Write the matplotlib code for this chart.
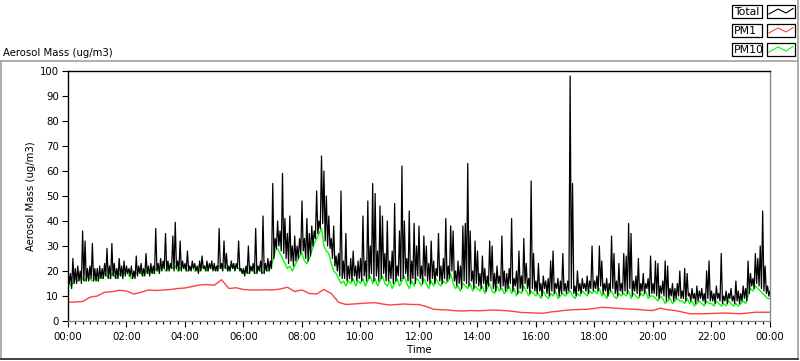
import numpy as np
import matplotlib
matplotlib.use("Agg")
import matplotlib.pyplot as plt
from matplotlib.lines import Line2D
from matplotlib.patches import Rectangle

# ---------------- data ----------------
# Total aerosol mass: upper reading in each 5-minute slot (12 per hour)
total_00_06 = [20, 19, 25, 21, 22, 20, 36, 32, 21, 22, 31, 21,
               21, 22, 21, 23, 29, 22, 31, 23, 21, 25, 22, 24,
               22, 21, 22, 20, 26, 22, 23, 21, 27, 22, 23, 22,
               37, 23, 25, 24, 35, 24, 23, 34, 39.5, 24, 32, 24,
               23, 28, 22, 24, 23, 22, 24, 26, 22, 24, 23, 24,
               23, 22, 37, 23, 32, 27, 22, 24, 23, 23, 32, 21]
total_06_12 = [21, 22, 30, 22, 23, 37, 22, 24, 42, 23, 25, 24,
               55, 33, 40, 36, 59, 41, 35, 42, 30, 34, 30, 33,
               48, 33, 41, 35, 38, 36, 52, 40, 66, 60, 50, 42,
               33, 38, 26, 27, 52, 24, 35, 22, 25, 28, 22, 24,
               25, 42, 24, 48, 30, 55, 51, 28, 46, 42, 27, 40,
               24, 28, 47, 22, 36, 62, 40, 25, 44, 24, 39, 30]
total_12_18 = [38, 22, 34, 30, 23, 32, 24, 21, 35, 22, 25, 41,
               22, 38, 36, 20, 24, 22, 38, 39, 63, 36, 20, 32,
               28, 19, 26, 21, 18, 32, 30, 19, 22, 18, 34, 20,
               19, 21, 41, 17, 20, 28, 18, 33, 23, 17, 56, 27,
               16, 23, 15, 18, 16, 17, 24, 28, 15, 17, 16, 27,
               15, 16, 98, 55, 14, 20, 15, 17, 15, 18, 16, 30]
total_18_24 = [16, 18, 30, 24, 15, 17, 15, 34, 27, 16, 23, 15,
               27, 26, 39, 35, 16, 18, 25, 15, 19, 15, 17, 26,
               15, 24, 23, 14, 16, 24, 22, 13, 15, 13, 15, 20,
               12, 21, 19, 11, 13, 11, 14, 12, 13, 11, 20, 24,
               12, 11, 14, 11, 27, 10, 12, 11, 13, 10, 16, 12,
               11, 14, 13, 24, 19, 17, 27, 25, 30, 44, 22, 14,
               12]

# Total aerosol mass: lower reading (band bottom) in each 5-minute slot
total_low_00_06 = [15, 13, 15, 15, 16, 15, 16, 16, 16, 17, 16, 16,
                   16, 17, 17, 18, 17, 17, 18, 17, 17, 18, 17, 18,
                   19, 18, 17, 17, 18, 19, 18, 18, 19, 18, 19, 19,
                   20, 19, 20, 21, 20, 20, 21, 20, 21, 20, 20, 21,
                   20, 20, 20, 21, 20, 19, 20, 21, 20, 20, 21, 20,
                   20, 20, 21, 20, 21, 20, 20, 21, 20, 21, 20, 19]
total_low_06_12 = [18, 19, 19, 20, 19, 19, 20, 19, 19, 20, 20, 21,
                   25, 29, 30, 28, 27, 25, 23, 24, 22, 24, 25, 27,
                   28, 25, 24, 26, 30, 33, 35, 37, 39, 32, 30, 29,
                   25, 22, 20, 18, 17, 17, 16, 17, 16, 18, 16, 17,
                   16, 18, 16, 17, 19, 16, 18, 16, 17, 19, 16, 16,
                   17, 15, 16, 18, 16, 17, 19, 16, 15, 17, 15, 18]
total_low_12_18 = [17, 15, 18, 16, 15, 17, 15, 18, 16, 15, 17, 16,
                   17, 20, 16, 14, 15, 13, 16, 15, 14, 16, 13, 15,
                   14, 13, 15, 12, 14, 16, 13, 12, 15, 13, 14, 12,
                   13, 15, 12, 14, 11, 13, 12, 15, 13, 11, 13, 12,
                   11, 12, 10, 13, 11, 10, 12, 11, 13, 10, 11, 12,
                   11, 12, 13, 11, 10, 12, 11, 13, 12, 11, 13, 12]
total_low_18_24 = [13, 12, 14, 11, 12, 10, 12, 13, 11, 10, 12, 11,
                   12, 11, 13, 10, 12, 11, 10, 12, 11, 13, 10, 11,
                   11, 10, 9, 11, 10, 8, 9, 10, 8, 9, 10, 9,
                   9, 8, 10, 8, 9, 7, 8, 9, 8, 7, 9, 8,
                   8, 7, 9, 8, 7, 8, 7, 9, 8, 7, 8, 7,
                   8, 9, 8, 11, 14, 13, 15, 14, 13, 12, 11, 10,
                   10]

# PM10, 5-minute samples
pm10_00_06 = [16, 14, 15, 17, 16, 18, 17, 16, 18, 17, 16, 17,
              16, 18, 17, 19, 18, 17, 19, 18, 17, 19, 18, 19,
              20, 18, 17, 18, 19, 20, 19, 18, 20, 19, 20, 19,
              21, 20, 21, 22, 20, 21, 22, 21, 22, 20, 21, 22,
              21, 20, 21, 22, 20, 21, 20, 22, 21, 20, 22, 21,
              21, 20, 22, 21, 22, 21, 20, 22, 21, 22, 21, 20]
pm10_06_12 = [19, 20, 19, 21, 20, 19, 21, 20, 19, 21, 20, 21,
              24, 28, 29, 27, 25, 23, 21, 22, 20, 22, 24, 26,
              27, 24, 23, 25, 28, 31, 33, 35, 37, 30, 28, 27,
              23, 20, 19, 17, 15, 16, 14, 16, 15, 17, 14, 16,
              15, 17, 14, 16, 18, 15, 17, 14, 16, 18, 15, 14,
              16, 13, 15, 17, 14, 16, 18, 15, 13, 16, 14, 17]
pm10_12_18 = [16, 14, 17, 15, 13, 16, 14, 17, 15, 14, 16, 15,
              16, 19, 15, 13, 14, 12, 15, 14, 13, 15, 12, 14,
              13, 12, 14, 11, 13, 15, 12, 11, 14, 12, 13, 11,
              12, 14, 11, 13, 10, 12, 11, 14, 12, 10, 12, 11,
              10, 11, 9, 12, 10, 9, 11, 10, 12, 9, 10, 11,
              10, 11, 12, 10, 9, 11, 10, 12, 11, 10, 12, 11]
pm10_18_24 = [12, 11, 13, 10, 11, 9, 11, 12, 10, 9, 11, 10,
              11, 10, 12, 9, 11, 10, 9, 11, 10, 12, 9, 10,
              10, 9, 8, 10, 9, 7, 8, 9, 7, 8, 9, 8,
              8, 7, 9, 7, 8, 6, 7, 8, 7, 6, 8, 7,
              7, 6, 8, 7, 6, 7, 6, 8, 7, 6, 7, 6,
              7, 8, 7, 10, 13, 12, 14, 13, 12, 11, 10, 9,
              9]

# PM1, 15-minute samples
pm1_00_12 = [7.5, 7.6, 7.8, 9.5, 10.0, 11.5, 11.7, 12.3, 12.0, 10.8, 11.5, 12.4,
             12.2, 12.4, 12.6, 13.0, 13.2, 13.8, 14.4, 14.6, 14.3, 16.5, 13.0, 13.3,
             12.6, 12.4, 12.4, 12.5, 12.4, 12.8, 13.5, 11.8, 12.4, 11.0, 10.8, 12.6,
             11.0, 7.5, 6.6, 6.8, 7.0, 7.2, 7.3, 6.8, 6.4, 6.6, 6.8, 6.6]
pm1_12_24 = [6.6, 5.8, 4.7, 4.5, 4.4, 4.1, 4.0, 4.2, 4.1, 4.2, 4.4, 4.3,
             4.1, 3.8, 3.4, 3.3, 3.2, 3.1, 3.6, 3.9, 4.3, 4.5, 4.6, 4.7,
             5.0, 5.5, 5.3, 5.1, 4.9, 4.7, 4.6, 4.3, 4.2, 5.1, 4.5, 4.2,
             3.6, 2.9, 2.9, 2.9, 3.0, 3.1, 3.2, 3.0, 2.9, 3.2, 3.5, 3.5,
             3.5]

x_tick_hours = [0, 2, 4, 6, 8, 10, 12, 14, 16, 18, 20, 22, 24]
x_tick_labels = ["00:00", "02:00", "04:00", "06:00", "08:00", "10:00", "12:00",
                 "14:00", "16:00", "18:00", "20:00", "22:00", "00:00"]
y_ticks = [0, 10, 20, 30, 40, 50, 60, 70, 80, 90, 100]
legend_names = ["Total", "PM1", "PM10"]

# ---------------- assemble ----------------
total_hi = np.array(total_00_06 + total_06_12 + total_12_18 + total_18_24, float)
total_lo = np.array(total_low_00_06 + total_low_06_12 + total_low_12_18 + total_low_18_24, float)
pm10 = np.array(pm10_00_06 + pm10_06_12 + pm10_12_18 + pm10_18_24, float)
pm1 = np.array(pm1_00_12 + pm1_12_24, float)
t5 = np.arange(len(total_hi)) * 5 / 60.0
t15 = np.arange(len(pm1)) * 15 / 60.0

# interleave upper reading at the slot start and lower reading mid-slot
t_tot = np.empty(2 * len(t5) - 1)
v_tot = np.empty(2 * len(t5) - 1)
t_tot[0::2] = t5
v_tot[0::2] = total_hi
t_tot[1::2] = t5[:-1] + 2.5 / 60.0
v_tot[1::2] = total_lo[:-1]

W, H = 800, 361
fig = plt.figure(figsize=(W / 100, H / 100), dpi=100)
FONT = "DejaVu Sans"
FS = 7.3

def fx(x):
    return x / W

def fy(y):
    return 1 - y / H

ax = fig.add_axes([fx(68), fy(321), (770 - 68) / W, (321 - 71) / H])
ax.set_xlim(0, 24)
ax.set_ylim(0, 100)

GREEN = "#00ff00"
RED = "#ff4040"
ax.plot(t5, pm10, color=GREEN, lw=1.0, zorder=2)
ax.plot(t15, pm1, color=RED, lw=1.0, zorder=2)
ax.plot(t_tot, v_tot, color="black", lw=0.9, zorder=3)

for s in ["left", "top"]:
    ax.spines[s].set_color("black")
    ax.spines[s].set_linewidth(1.0)
for s in ["right", "bottom"]:
    ax.spines[s].set_color("#8c8c8c")
    ax.spines[s].set_linewidth(1.0)

ax.set_xticks(x_tick_hours)
ax.set_xticklabels(x_tick_labels, fontsize=FS, family=FONT)
ax.set_xticks(np.arange(0, 24.01, 0.25), minor=True)
ax.set_yticks(y_ticks)
ax.set_yticklabels([str(v) for v in y_ticks], fontsize=FS, family=FONT)
ax.tick_params(axis="x", which="major", direction="out", length=4.5, width=0.8, pad=3.5)
ax.tick_params(axis="x", which="minor", direction="out", length=2.5, width=0.8)
ax.tick_params(axis="y", which="major", direction="out", length=4, width=0.8, pad=2.5)

ax.set_xlabel("Time", fontsize=FS, family=FONT, labelpad=2)
ax.set_ylabel("Aerosol Mass (ug/m3)", fontsize=FS, family=FONT, labelpad=3)

fig.text(fx(3), fy(52.5), "Aerosol Mass (ug/m3)", fontsize=FS, family=FONT,
         ha="left", va="center")

def fline(x0, y0, x1, y1, color, lw=1.0):
    fig.add_artist(Line2D([fx(x0), fx(x1)], [fy(y0), fy(y1)], color=color, lw=lw,
                          transform=fig.transFigure))

fline(1, 61, 798, 61, "#a0a0a0", 1.2)
fline(1, 61, 1, 359, "#a0a0a0", 1.2)
fline(798, 0, 798, 359, "#a0a0a0", 1.2)
fline(1, 359, 798, 359, "#202020", 1.2)

rows_top = [5, 24, 43]
for name, top, col in zip(legend_names, rows_top, ["black", RED, GREEN]):
    h = 13
    fig.add_artist(Rectangle((fx(732), fy(top + h)), 30 / W, h / H, fill=True,
                             facecolor="white", edgecolor="black", lw=0.9,
                             transform=fig.transFigure))
    fig.text(fx(734), fy(top + h / 2 + 0.5), name, fontsize=FS + 0.5, family=FONT,
             ha="left", va="center")
    fig.add_artist(Rectangle((fx(767), fy(top + h)), 28 / W, h / H, fill=True,
                             facecolor="white", edgecolor="black", lw=0.9,
                             transform=fig.transFigure))
    xs = [769, 778, 786, 793]
    ys = [top + 9, top + 4, top + 8, top + 3.5]
    fig.add_artist(Line2D([fx(v) for v in xs], [fy(v) for v in ys], color=col,
                          lw=0.8, transform=fig.transFigure))

fig.savefig("out.png", dpi=100)
